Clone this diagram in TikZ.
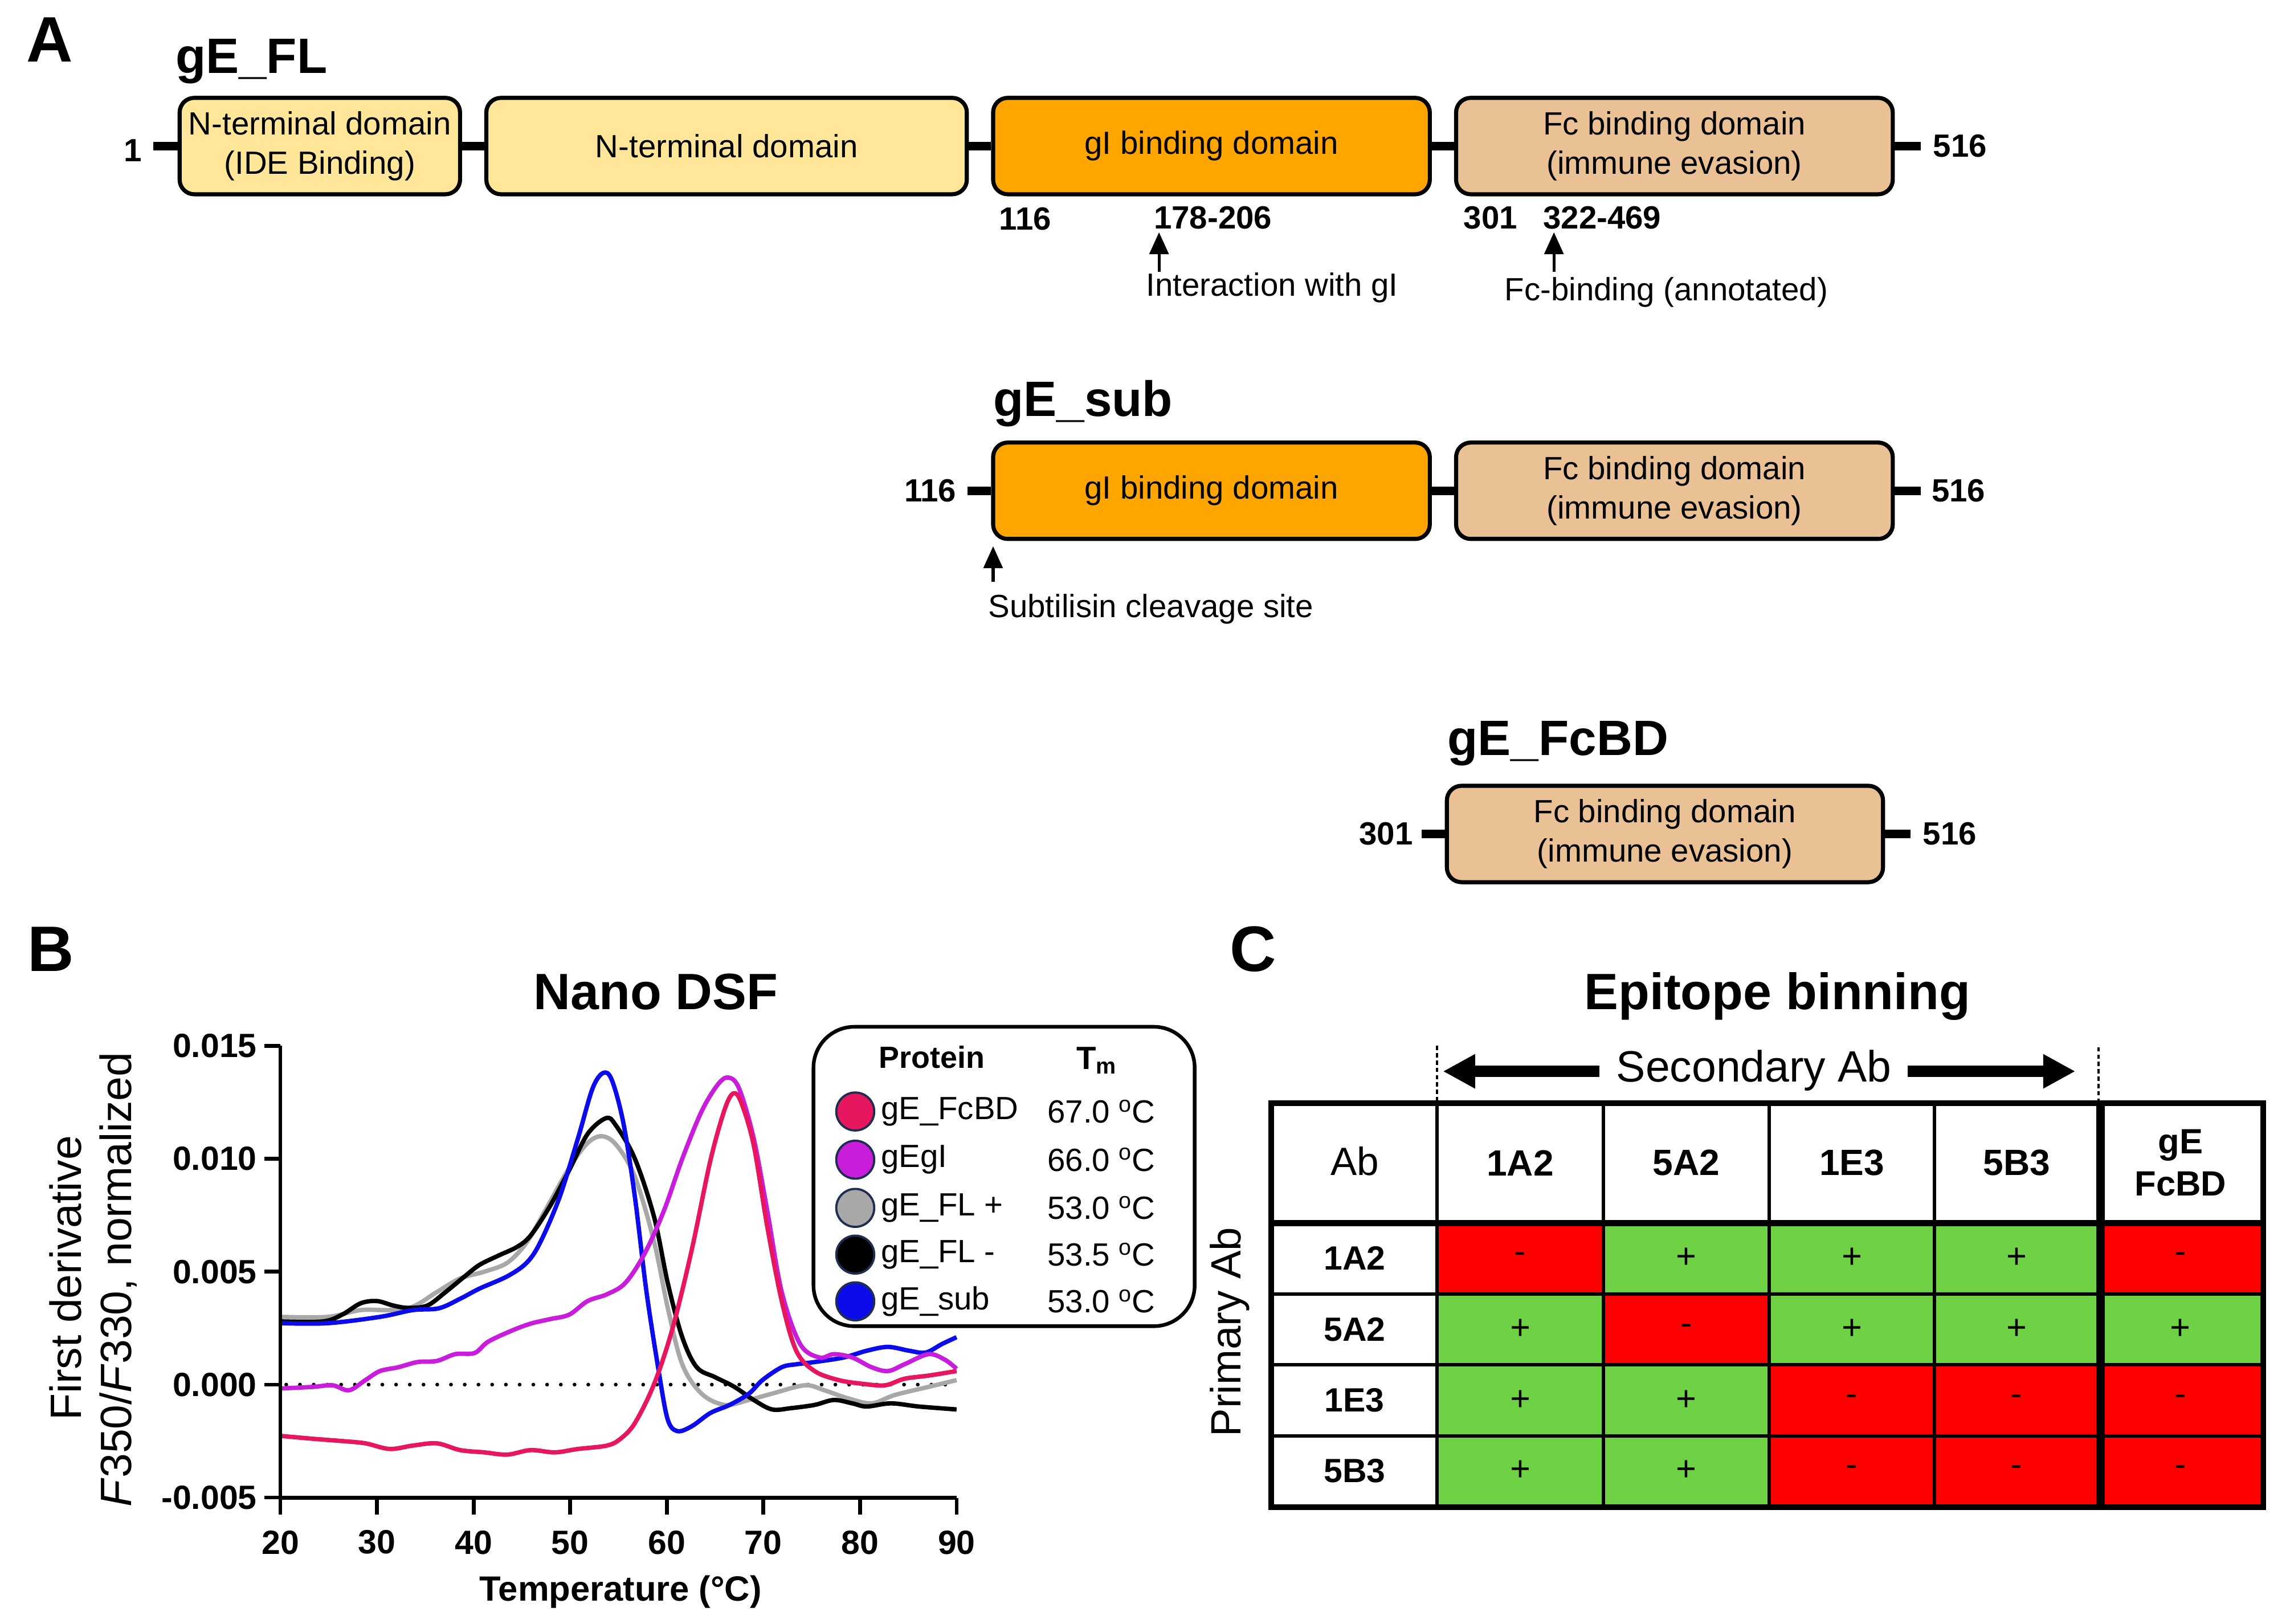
\documentclass[tikz,border=0pt]{standalone}
\usepackage{fontspec}
\setmainfont{Liberation Sans}
\usetikzlibrary{arrows.meta}
\definecolor{ylw}{RGB}{255,230,153}
\definecolor{org}{RGB}{255,165,0}
\definecolor{tanc}{RGB}{234,193,148}
\definecolor{cfcbd}{RGB}{230,22,95}
\definecolor{cgi}{RGB}{200,30,220}
\definecolor{cgray}{RGB}{168,168,168}
\definecolor{cblue}{RGB}{12,12,235}
\definecolor{cred}{RGB}{255,0,0}
\definecolor{cgreen}{RGB}{110,210,68}
\definecolor{navy}{RGB}{30,45,80}
\tikzset{
  dom/.style={draw, line width=2.8pt, rounded corners=10pt, minimum height=66pt, inner sep=0pt, align=center, font=\fontsize{22}{27}\selectfont},
  lnk/.style={line width=6pt},
  numb/.style={font=\bfseries\fontsize{22}{26}\selectfont, inner sep=0pt},
  ttl/.style={font=\bfseries\fontsize{34}{40}\selectfont, inner sep=0pt, anchor=base west},
  note/.style={font=\fontsize{22}{26}\selectfont, inner sep=0pt},
  uparr/.style={-{Triangle[length=15pt,width=13pt]}, line width=2pt},
  panel/.style={font=\bfseries\fontsize{44}{50}\selectfont, inner sep=0pt},
  crv/.style={line width=3pt, line join=round},
  axl/.style={line width=2.6pt},
  tick/.style={font=\bfseries\fontsize{23}{27}\selectfont, inner sep=0pt},
  legc/.style={circle, draw=navy, line width=1.5pt, minimum size=26pt, inner sep=0pt},
  legt/.style={font=\fontsize{22}{26}\selectfont, inner sep=0pt, anchor=west},
  tcell/.style={draw, line width=2.4pt, inner sep=0pt, font=\fontsize{24}{28}\selectfont},
  yescell/.style={tcell, fill=cgreen},
  nocell/.style={tcell, fill=cred},
  hdr/.style={tcell, fill=white, font=\bfseries\fontsize{25}{29}\selectfont, align=center},
  w0/.style={minimum width=113pt}, w1/.style={minimum width=113.8pt},
  w2/.style={minimum width=113.6pt}, w3/.style={minimum width=113.3pt},
  w4/.style={minimum width=112.3pt}, w5/.style={minimum width=112pt},
  rh/.style={minimum height=80.5pt}, r1/.style={minimum height=49.5pt},
  r2/.style={minimum height=48.5pt}, r3/.style={minimum height=48.5pt},
  r4/.style={minimum height=48pt},
  bigarr/.style={-{Triangle[length=22pt,width=22pt]}, line width=7.5pt},
  vdots/.style={line width=1.6pt, dash pattern=on 3pt off 2pt}
}
\begin{document}
\begin{tikzpicture}[x=1pt,y=-1pt]
\useasboundingbox (0,0) rectangle (1568,1111.9);
\fill[white] (0,0) rectangle (1568,1111.9);

% ---------------- Panel A ----------------
\node[panel] (lA) at (34,27) {A};
\node[ttl] (tFL) at (120,50) {gE\_FL};
\node[ttl] (tsub) at (680,285) {gE\_sub};
\node[ttl] (tFc) at (991,517) {gE\_FcBD};

% row 1
\node[dom, fill=ylw, minimum width=192pt] (b1) at (219,100) {N-terminal domain\\(IDE Binding)};
\node[dom, fill=ylw, minimum width=329pt] (b2) at (497.5,100) {N-terminal domain};
\node[dom, fill=org, minimum width=299pt] (b3) at (829.5,100) {gI binding domain};
\node[dom, fill=tanc, minimum width=299pt] (b4) at (1146.5,100) {Fc binding domain\\(immune evasion)};
\coordinate (s1) at (105,100);
\coordinate (e1) at (1315,100);
\draw[lnk] (s1) -- (b1.west);
\draw[lnk] (b1.east) -- (b2.west);
\draw[lnk] (b2.east) -- (b3.west);
\draw[lnk] (b3.east) -- (b4.west);
\draw[lnk] (b4.east) -- (e1);
\node[numb] (n1) at (91,103) {1};
\node[numb] (n516a) at (1342,100) {516};
\node[numb] (n116a) at (702,150) {116};
\node[numb] (n178) at (830.5,149) {178-206};
\node[numb] (n301a) at (1020.5,149) {301};
\node[numb] (n322) at (1097,149) {322-469};
\coordinate (a1s) at (793.6,186);
\coordinate (a1e) at (793.6,159);
\draw[uparr] (a1s) -- (a1e);
\node[note] (i1) at (871,197) {Interaction with gI};
\coordinate (a2s) at (1064,186);
\coordinate (a2e) at (1064,159);
\draw[uparr] (a2s) -- (a2e);
\node[note] (i2) at (1141,200) {Fc-binding (annotated)};

% row 2
\node[dom, fill=org, minimum width=299pt] (c1) at (829.5,336) {gI binding domain};
\node[dom, fill=tanc, minimum width=299pt] (c2) at (1146.5,336) {Fc binding domain\\(immune evasion)};
\coordinate (s2) at (662.6,336);
\coordinate (e2) at (1315,336);
\draw[lnk] (s2) -- (c1.west);
\draw[lnk] (c1.east) -- (c2.west);
\draw[lnk] (c2.east) -- (e2);
\node[numb] (n116b) at (637,336) {116};
\node[numb] (n516b) at (1341,336) {516};
\coordinate (a3s) at (680,398.5);
\coordinate (a3e) at (680,374);
\draw[uparr] (a3s) -- (a3e);
\node[note] (i3) at (788,417) {Subtilisin cleavage site};

% row 3
\node[dom, fill=tanc, minimum width=298.6pt] (d1) at (1140,571) {Fc binding domain\\(immune evasion)};
\coordinate (s3) at (973.5,571);
\coordinate (e3) at (1308,571);
\draw[lnk] (s3) -- (d1.west);
\draw[lnk] (d1.east) -- (e3);
\node[numb] (n301b) at (949,571) {301};
\node[numb] (n516c) at (1335,571) {516};

% ---------------- Panel B ----------------
\node[panel] (lB) at (35,650) {B};
\node[font=\bfseries\fontsize{35}{40}\selectfont, inner sep=0pt] (tDSF) at (449,679) {Nano DSF};

% zero line
\draw[line width=2.6pt, dash pattern=on 0pt off 9.4pt, line cap=round] (196,948) -- (655,948);

% curves
\begin{scope}[xshift=59.72pt, yshift=-948pt, x=6.614pt, y=15.46pt]
\draw[crv, cgray] plot[smooth, tension=0.55] coordinates {(20,3.0) (24.9,3.0) (28.3,3.3) (31.3,3.3) (33.7,3.45) (36.2,4.1) (38.6,4.7) (41.1,5.0) (43.5,5.4) (45.5,6.3) (47.4,7.7) (49.9,9.6) (51.8,10.7) (53.3,11.0) (54.8,10.6) (56.7,9.2) (58.7,6.3) (60.1,3.4) (61.6,0.9) (63.6,-0.4) (66,-0.9) (68.5,-0.68) (70.9,-0.4) (74.3,-0.03) (76.3,-0.25) (78.7,-0.6) (81.2,-0.83) (83.6,-0.46) (87.1,-0.1) (90,0.2)};
\draw[crv, black] plot[smooth, tension=0.55] coordinates {(20,2.8) (24.4,2.8) (26.4,3.1) (28.3,3.6) (30,3.7) (31.7,3.5) (33.2,3.4) (35.2,3.5) (37.1,4.1) (39.1,4.8) (40.6,5.3) (42.5,5.7) (44.5,6.1) (45.9,6.6) (47.9,7.9) (49.9,9.5) (51.8,11.1) (53.7,11.8) (54.7,11.5) (56.7,10.0) (58.7,7.4) (60.1,4.5) (61.6,2.1) (63.1,0.77) (65,0.33) (67,-0.1) (69,-0.68) (70.9,-1.1) (72.9,-1.04) (75.3,-0.9) (77.3,-0.68) (79.2,-0.83) (80.7,-0.97) (83.2,-0.83) (86.1,-0.97) (90,-1.1)};
\draw[crv, cblue] plot[smooth, tension=0.55] coordinates {(20,2.72) (24.9,2.72) (30.3,3.0) (33.7,3.3) (36.4,3.38) (38.6,3.8) (40.6,4.25) (43.5,4.8) (45.5,5.4) (46.9,6.3) (48.9,8.3) (50.8,10.9) (52.3,13.1) (53.4,13.8) (54.3,13.5) (55.5,11.6) (56.7,8.3) (57.9,4.1) (59.2,0.5) (60.1,-1.55) (61.1,-2.06) (62.6,-1.84) (64.5,-1.26) (66.5,-0.9) (68.5,-0.4) (69.9,0.2) (71.9,0.77) (73.4,0.9) (75.3,1.0) (78.3,1.2) (80.7,1.5) (82.9,1.67) (85.1,1.5) (86.8,1.42) (88.5,1.8) (90,2.1)};
\draw[crv, cgi] plot[smooth, tension=0.55] coordinates {(20,-0.17) (23.4,-0.1) (25.4,-0.03) (27.1,-0.25) (28.8,0.2) (30.3,0.6) (32.2,0.77) (34.2,1.0) (36.2,1.05) (38.1,1.35) (40.1,1.4) (41.5,1.9) (44,2.4) (45.9,2.7) (47.9,2.9) (49.9,3.1) (51.8,3.7) (53.8,4.0) (55.7,4.5) (57.7,5.8) (59.7,7.7) (61.6,10.0) (63.6,12.1) (65.3,13.3) (66.4,13.6) (67.5,13.1) (69,10.9) (70.4,7.7) (71.9,4.1) (73.8,1.8) (75.8,1.2) (77.3,1.35) (79.2,1.2) (81.2,0.77) (82.9,0.6) (84.6,0.9) (87.1,1.35) (88.8,1.1) (90,0.7)};
\draw[crv, cfcbd] plot[smooth, tension=0.55] coordinates {(20,-2.27) (23.4,-2.4) (26.4,-2.5) (28.8,-2.6) (31.3,-2.85) (33.7,-2.7) (36.2,-2.6) (38.6,-2.9) (41.1,-3.0) (43.5,-3.1) (45.9,-2.9) (48.4,-3.0) (50.8,-2.85) (53.8,-2.7) (55.2,-2.4) (56.7,-1.7) (58.7,0.04) (60.6,2.5) (62.6,6.0) (64.5,9.9) (66,12.2) (66.9,12.9) (67.7,12.5) (69,10.6) (70.4,7.0) (71.9,3.7) (73.4,1.5) (75.3,0.6) (77.8,0.2) (80.2,0.04) (82.6,-0.03) (84.6,0.26) (87.1,0.4) (90,0.6)};
\end{scope}

% axes
\draw[axl] (192,716) -- (192,1037);
\draw[axl] (192,1025.5) -- (655,1025.5);
\foreach \yy/\lab in {716.1/0.015, 793.4/0.010, 870.7/0.005, 948/0.000, 1025.3/-0.005} {
  \draw[axl] (181,\yy) -- (192,\yy);
  \node[tick, anchor=east] (yl\lab) at (176,\yy) {\lab};
}
\foreach \xx/\lab in {192/20, 258.1/30, 324.3/40, 390.4/50, 456.6/60, 522.7/70, 588.8/80, 655/90} {
  \draw[axl] (\xx,1025.5) -- (\xx,1037);
  \node[tick] (xl\lab) at (\xx,1056) {\lab};
}
\node[font=\bfseries\fontsize{24}{28}\selectfont, inner sep=0pt] (xlab) at (425,1090) {Temperature (°C)};
\node[font=\fontsize{30}{34}\selectfont, inner sep=0pt, rotate=90] (ylab1) at (45,875) {First derivative};
\node[font=\fontsize{30}{34}\selectfont, inner sep=0pt, rotate=90] (ylab2) at (81,876) {\textit{F}350/\textit{F}330, normalized};

% legend
\node[draw, fill=white, line width=2.5pt, rounded corners=28pt, minimum width=261pt, minimum height=205pt] (leg) at (687.5,805.5) {};
\node[font=\bfseries\fontsize{21}{25}\selectfont, inner sep=0pt] (lgp) at (638,724) {Protein};
\node[font=\bfseries\fontsize{22}{25}\selectfont, inner sep=0pt] (lgt) at (751,726) {T\textsubscript{m}};
\node[legc, fill=cfcbd] (k1) at (585.6,761) {};
\node[legc, fill=cgi] (k2) at (585.6,794) {};
\node[legc, fill=cgray] (k3) at (585.6,827) {};
\node[legc, fill=black] (k4) at (585.6,859) {};
\node[legc, fill=cblue] (k5) at (585.6,891) {};
\node[legt] (p1) at (603,761) {gE\_FcBD};
\node[legt] (p2) at (603,794) {gEgI};
\node[legt] (p3) at (603,827) {gE\_FL +};
\node[legt] (p4) at (603,859) {gE\_FL -};
\node[legt] (p5) at (603,891) {gE\_sub};
\node[legt] (v1) at (717,761) {67.0 \textsuperscript{o}C};
\node[legt] (v2) at (717,794) {66.0 \textsuperscript{o}C};
\node[legt] (v3) at (717,827) {53.0 \textsuperscript{o}C};
\node[legt] (v4) at (717,859) {53.5 \textsuperscript{o}C};
\node[legt] (v5) at (717,891) {53.0 \textsuperscript{o}C};

% ---------------- Panel C ----------------
\node[panel] (lC) at (858,650) {C};
\node[font=\bfseries\fontsize{35}{40}\selectfont, inner sep=0pt] (tEB) at (1217,682) {Epitope binning};
\node[font=\fontsize{30}{34}\selectfont, inner sep=0pt] (tSec) at (1201,733) {Secondary Ab};
\coordinate (sl1) at (1095,733.5);
\coordinate (sl2) at (988,733.5);
\coordinate (sr1) at (1306,733.5);
\coordinate (sr2) at (1421,733.5);
\draw[bigarr] (sl1) -- (sl2);
\draw[bigarr] (sr1) -- (sr2);
\coordinate (dl1) at (984,716);
\coordinate (dl2) at (984,755);
\coordinate (dr1) at (1437,717);
\coordinate (dr2) at (1437,755);
\draw[vdots] (dl1) -- (dl2);
\draw[vdots] (dr1) -- (dr2);
\node[font=\fontsize{29}{33}\selectfont, inner sep=0pt, rotate=90] (tPri) at (842,912) {Primary Ab};

% header row
\node[hdr, w0, rh, font=\fontsize{27}{31}\selectfont] (h0) at (927.5,796.25) {\raisebox{3pt}{Ab}};
\node[hdr, w1, rh] (h1) at (1040.9,796.25) {1A2};
\node[hdr, w2, rh] (h2) at (1154.6,796.25) {5A2};
\node[hdr, w3, rh] (h3) at (1268,796.25) {1E3};
\node[hdr, w4, rh] (h4) at (1380.8,796.25) {5B3};
\node[hdr, w5, rh, font=\bfseries\fontsize{24}{29}\selectfont] (h5) at (1493,796.25) {gE\\FcBD};
% row labels
\node[hdr, w0, r1, font=\bfseries\fontsize{23}{27}\selectfont] (q1) at (927.5,861.25) {1A2};
\node[hdr, w0, r2, font=\bfseries\fontsize{23}{27}\selectfont] (q2) at (927.5,910.25) {5A2};
\node[hdr, w0, r3, font=\bfseries\fontsize{23}{27}\selectfont] (q3) at (927.5,958.75) {1E3};
\node[hdr, w0, r4, font=\bfseries\fontsize{23}{27}\selectfont] (q4) at (927.5,1007) {5B3};
% row 1A2
\node[nocell, w1, r1] (c11) at (1040.9,861.25) {-};
\node[yescell, w2, r1] (c12) at (1154.6,861.25) {+};
\node[yescell, w3, r1] (c13) at (1268,861.25) {+};
\node[yescell, w4, r1] (c14) at (1380.8,861.25) {+};
\node[nocell, w5, r1] (c15) at (1493,861.25) {-};
% row 5A2
\node[yescell, w1, r2] (c21) at (1040.9,910.25) {+};
\node[nocell, w2, r2] (c22) at (1154.6,910.25) {-};
\node[yescell, w3, r2] (c23) at (1268,910.25) {+};
\node[yescell, w4, r2] (c24) at (1380.8,910.25) {+};
\node[yescell, w5, r2] (c25) at (1493,910.25) {+};
% row 1E3
\node[yescell, w1, r3] (c31) at (1040.9,958.75) {+};
\node[yescell, w2, r3] (c32) at (1154.6,958.75) {+};
\node[nocell, w3, r3] (c33) at (1268,958.75) {-};
\node[nocell, w4, r3] (c34) at (1380.8,958.75) {-};
\node[nocell, w5, r3] (c35) at (1493,958.75) {-};
% row 5B3
\node[yescell, w1, r4] (c41) at (1040.9,1007) {+};
\node[yescell, w2, r4] (c42) at (1154.6,1007) {+};
\node[nocell, w3, r4] (c43) at (1268,1007) {-};
\node[nocell, w4, r4] (c44) at (1380.8,1007) {-};
\node[nocell, w5, r4] (c45) at (1493,1007) {-};
% emphasised lines
\draw[line width=6pt] (h4.north east) -- (c44.south east);
\draw[line width=3.6pt] (h0.south west) -- (h5.south east);
\draw[line width=3pt] (h0.north west) rectangle (c45.south east);
\end{tikzpicture}
\end{document}
